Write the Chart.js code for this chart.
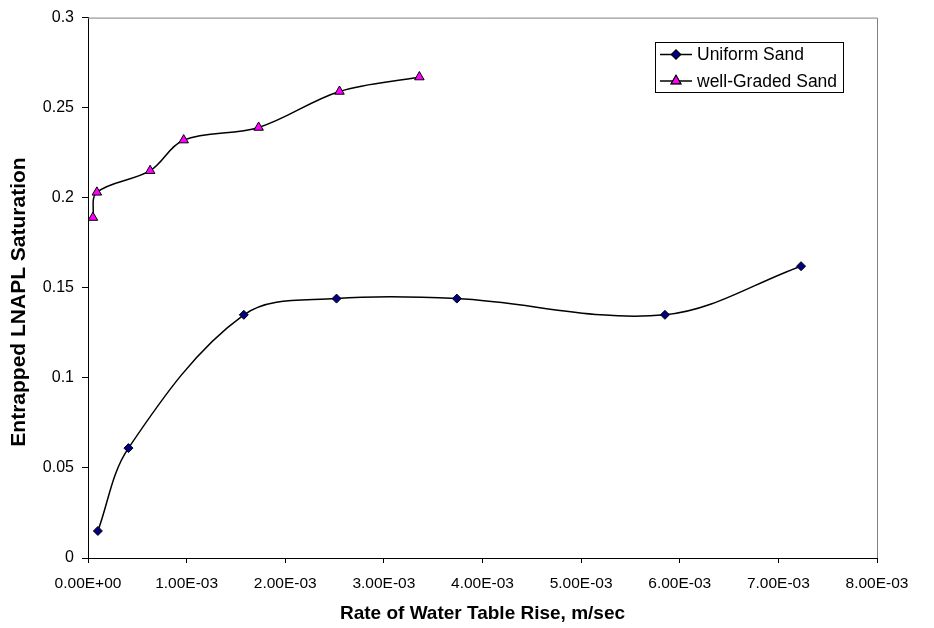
<!DOCTYPE html>
<html>
<head>
<meta charset="utf-8">
<script src="https://cdn.jsdelivr.net/npm/chart.js@4.4.1/dist/chart.umd.min.js"></script>
<style>
  html, body { margin: 0; padding: 0; background: #fff; }
  #wrap { width: 934px; height: 628px; }
</style>
</head>
<body>
<div id="wrap"><canvas id="myChart" width="934" height="628"></canvas></div>
<script>
/* global Chart */

// data
const uniformX = [1.0e-4, 4.1e-4, 1.58e-3, 2.52e-3, 3.74e-3, 5.85e-3, 7.23e-3];
const uniformY = [0.015, 0.061, 0.135, 0.144, 0.144, 0.135, 0.162];
const gradedX = [5.0e-5, 9.0e-5, 6.3e-4, 9.7e-4, 1.73e-3, 2.55e-3, 3.36e-3];
const gradedY = [0.189, 0.203, 0.215, 0.232, 0.239, 0.259, 0.267];

const xTickLabels = ['0.00E+00', '1.00E-03', '2.00E-03', '3.00E-03', '4.00E-03',
  '5.00E-03', '6.00E-03', '7.00E-03', '8.00E-03'];
const yTickLabels = ['0', '0.05', '0.1', '0.15', '0.2', '0.25', '0.3'];

const yTitle = 'Entrapped LNAPL Saturation';

const FONT = 'Arial, "Liberation Sans", sans-serif';

function toPoints(xs, ys) {
  return xs.map(function(x, i) { return { x: x, y: ys[i] }; });
}

// grey frame on top/right, y title and legend box inside the plot
const framePlugin = {
  id: 'frame',
  afterDraw: function(chart) {
    const ctx = chart.ctx;
    const a = chart.chartArea;
    ctx.save();
    ctx.strokeStyle = '#808080';
    ctx.lineWidth = 1;
    ctx.beginPath();
    ctx.moveTo(a.left, a.top + 0.5);
    ctx.lineTo(a.right + 0.5, a.top + 0.5);
    ctx.lineTo(a.right + 0.5, a.bottom);
    ctx.stroke();

    // y axis title, centred on the whole canvas like Excel does
    ctx.save();
    ctx.translate(19, 302);
    ctx.rotate(-Math.PI / 2);
    ctx.font = 'bold 21px ' + FONT;
    ctx.fillStyle = '#000';
    ctx.textAlign = 'center';
    ctx.textBaseline = 'middle';
    ctx.fillText(yTitle, 0, 0);
    ctx.restore();

    // legend
    const bx = 655.5, by = 42.5, bw = 188, bh = 50;
    ctx.fillStyle = '#fff';
    ctx.fillRect(bx, by, bw, bh);
    ctx.strokeStyle = '#000';
    ctx.strokeRect(bx, by, bw, bh);
    ctx.font = '17.5px ' + FONT;
    ctx.textBaseline = 'middle';
    chart.data.datasets.forEach(function(ds, i) {
      const y = 54.5 + i * 26.5;
      ctx.strokeStyle = '#000';
      ctx.lineWidth = 1.5;
      ctx.beginPath();
      ctx.moveTo(660, y);
      ctx.lineTo(692, y);
      ctx.stroke();
      Chart.helpers.drawPoint(ctx, {
        pointStyle: ds.pointStyle, radius: ds.pointRadius, rotation: 0,
        borderWidth: 1
      }, 676, y);
      ctx.fillStyle = ds.pointBackgroundColor;
      ctx.fill();
      ctx.strokeStyle = '#000';
      ctx.lineWidth = 1;
      ctx.stroke();
      ctx.fillStyle = '#000';
      ctx.fillText(ds.label, 697, y + 1);
    });
    ctx.restore();
  }
};

var ctx = document.getElementById('myChart').getContext('2d');

var chart = new Chart(ctx, {
  type: 'scatter',
  data: {
    datasets: [{
      label: 'Uniform Sand',
      data: toPoints(uniformX, uniformY),
      showLine: true,
      tension: 0.35,
      borderColor: '#000',
      borderWidth: 1.5,
      pointStyle: 'rectRot',
      pointRadius: 4.5,
      pointBackgroundColor: '#000080',
      pointBorderColor: '#000',
      pointBorderWidth: 1,
    },
    {
      label: 'well-Graded Sand',
      data: toPoints(gradedX, gradedY),
      showLine: true,
      tension: 0.35,
      borderColor: '#000',
      borderWidth: 1.5,
      pointStyle: 'triangle',
      pointRadius: 5.5,
      pointBackgroundColor: '#FF00FF',
      pointBorderColor: '#000',
      pointBorderWidth: 1,
    }]
  },
  options: {
    responsive: false,
    animation: false,
    layout: { padding: { top: 16, right: 57, left: 0, bottom: 0 } },
    plugins: {
      legend: { display: false },
      tooltip: { enabled: false },
    },
    scales: {
      x: {
        type: 'linear',
        min: 0,
        max: 0.008,
        afterFit: function(scale) { scale.height = 70; },
        afterBuildTicks: function(scale) {
          scale.ticks = xTickLabels.map(function(l, i) { return { value: i * 0.001 }; });
        },
        ticks: {
          color: '#000',
          padding: 11,
          maxRotation: 0,
          font: { family: FONT, size: 15.5 },
          callback: function(v, i) { return xTickLabels[i]; },
        },
        grid: {
          drawOnChartArea: false,
          drawTicks: true,
          tickLength: 5,
          tickColor: '#000',
        },
        border: { color: '#000', width: 1 },
        title: {
          display: true,
          text: 'Rate of Water Table Rise, m/sec',
          color: '#000',
          font: { family: FONT, size: 19, weight: 'bold' },
          padding: { top: 0, bottom: 3 },
        },
      },
      y: {
        min: 0,
        max: 0.3,
        afterFit: function(scale) { scale.width = 88; },
        afterBuildTicks: function(scale) {
          scale.ticks = yTickLabels.map(function(l, i) { return { value: i * 0.05 }; });
        },
        ticks: {
          color: '#000',
          padding: 8,
          font: { family: FONT, size: 16 },
          callback: function(v, i) { return yTickLabels[i]; },
        },
        grid: {
          drawOnChartArea: false,
          drawTicks: true,
          tickLength: 6,
          tickColor: '#000',
        },
        border: { color: '#000', width: 1 },
        title: { display: false },
      },
    },
  },
  plugins: [framePlugin],
});
</script>
</body>
</html>
